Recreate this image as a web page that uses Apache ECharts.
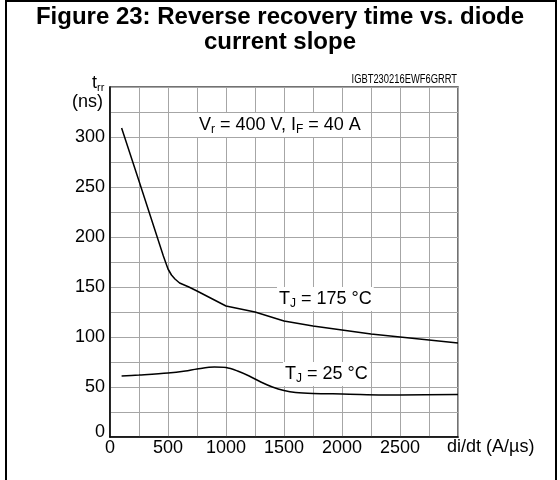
<!DOCTYPE html>
<html>
<head>
<meta charset="utf-8">
<script src="https://cdn.jsdelivr.net/npm/echarts@6/dist/echarts.min.js"></script>
<style>html,body{margin:0;padding:0;background:#fff}#c{width:560px;height:480px}</style>
</head>
<body>
<div id="c"></div>
<script>
// Data
var xTicks = [0, 500, 1000, 1500, 2000, 2500];
var yTicks = [0, 50, 100, 150, 200, 250, 300];
var t175 = [[100,309],[250,256],[460,181],[500,168],[530,162],[560,158],[600,154],[680,150],[750,146],[850,140],[1000,131],[1250,125],[1500,116],[1750,111],[2000,107],[2250,103],[2500,100],[2750,97],[3000,94]];
var t25 = [[100,61],[250,62],[500,64],[650,66],[750,68],[900,70],[1000,69.5],[1100,66],[1200,61],[1300,55],[1400,50],[1500,46.5],[1600,44.5],[1750,43.5],[2000,43],[2500,42],[3000,42.5]];
var FONT = "'Liberation Sans', Arial, sans-serif";

var chart = echarts.init(document.getElementById('c'), null, {renderer: 'canvas'});
var subRich = {
  n: {fontSize: 18, fontFamily: FONT, color: '#000', lineHeight: 22},
  s: {fontSize: 12, fontFamily: FONT, color: '#000', padding: [8, 0, 0, 0], verticalAlign: 'bottom'}
};
function label(x, y, txt) {
  return {
    type: 'text', left: x, top: y, z: 10,
    style: {
      text: txt, rich: subRich, backgroundColor: '#fff', padding: [1, 2, 1, 2]
    }
  };
}
chart.setOption({
  animation: false,
  backgroundColor: '#fff',
  grid: {left: 110, top: 87, width: 348, height: 350, show: true, borderColor: '#444', borderWidth: 1.5, containLabel: false, outerBoundsMode: 'none'},
  xAxis: {
    type: 'value', min: 0, max: 3000, interval: 250,
    axisLine: {show: true, lineStyle: {color: '#000', width: 1.5}},
    axisTick: {show: false},
    splitLine: {show: true, lineStyle: {color: '#a6a6a6', width: 1}},
    axisLabel: {
      margin: 2, fontSize: 18, fontFamily: FONT, color: '#000',
      formatter: function (v) { return xTicks.indexOf(v) >= 0 ? String(v) : ''; }
    }
  },
  yAxis: {
    type: 'value', min: 0, max: 350, interval: 25,
    axisLine: {show: true, lineStyle: {color: '#000', width: 1.5}},
    axisTick: {show: false},
    splitLine: {show: true, lineStyle: {color: '#a6a6a6', width: 1}},
    axisLabel: {
      margin: 5, fontSize: 18, fontFamily: FONT, color: '#000',
      formatter: function (v) {
        if (v === 0) return '{z|0}';
        return yTicks.indexOf(v) >= 0 ? String(v) : '';
      },
      rich: {z: {fontSize: 18, fontFamily: FONT, color: '#000', padding: [0, 0, 10, 0]}}
    }
  },
  series: [
    {type: 'line', data: t175, showSymbol: false, smooth: false, lineStyle: {color: '#000', width: 1.5}, z: 5},
    {type: 'line', data: t25, showSymbol: false, smooth: 0.3, lineStyle: {color: '#000', width: 1.5}, z: 5}
  ],
  graphic: [
    {type: 'line', shape: {x1: 6, y1: 0, x2: 6, y2: 480}, style: {stroke: '#000', lineWidth: 2}},
    {type: 'line', shape: {x1: 556, y1: 0, x2: 556, y2: 480}, style: {stroke: '#000', lineWidth: 2}},
    {type: 'line', shape: {x1: 5, y1: 1, x2: 557, y2: 1}, style: {stroke: '#000', lineWidth: 2}},
    {type: 'text', x: 280, y: 5, style: {
      text: 'Figure 23: Reverse recovery time vs. diode\ncurrent slope',
      align: 'center', verticalAlign: 'top',
      fontFamily: FONT, fontWeight: 'bold', fontSize: 24, lineHeight: 25, fill: '#000'}},
    {type: 'text', left: 92, top: 74, style: {text: '{n|t}{s|rr}', rich: {
      n: {fontSize: 18, fontFamily: FONT, color: '#000', lineHeight: 20},
      s: {fontSize: 11, fontFamily: FONT, color: '#000', padding: [7, 0, 0, 0], verticalAlign: 'bottom'}}}},
    {type: 'text', left: 72, top: 93, style: {text: '(ns)', fontSize: 18, fontFamily: FONT, fill: '#000'}},
    {type: 'text', x: 457, y: 74, scaleX: 0.78, style: {text: 'IGBT230216EWF6GRRT', align: 'right', verticalAlign: 'top', fontSize: 12, fontFamily: FONT, fill: '#000'}},
    {type: 'text', left: 447, top: 438, style: {text: 'di/dt (A/µs)', fontSize: 18, fontFamily: FONT, fill: '#000'}},
    label(197, 113, '{n|V}{s|r}{n| = 400 V, I}{s|F}{n| = 40 A}'),
    label(277, 287, '{n|T}{s|J}{n| = 175 °C}'),
    label(283, 362, '{n|T}{s|J}{n| = 25 °C}')
  ]
});
</script>
</body>
</html>
